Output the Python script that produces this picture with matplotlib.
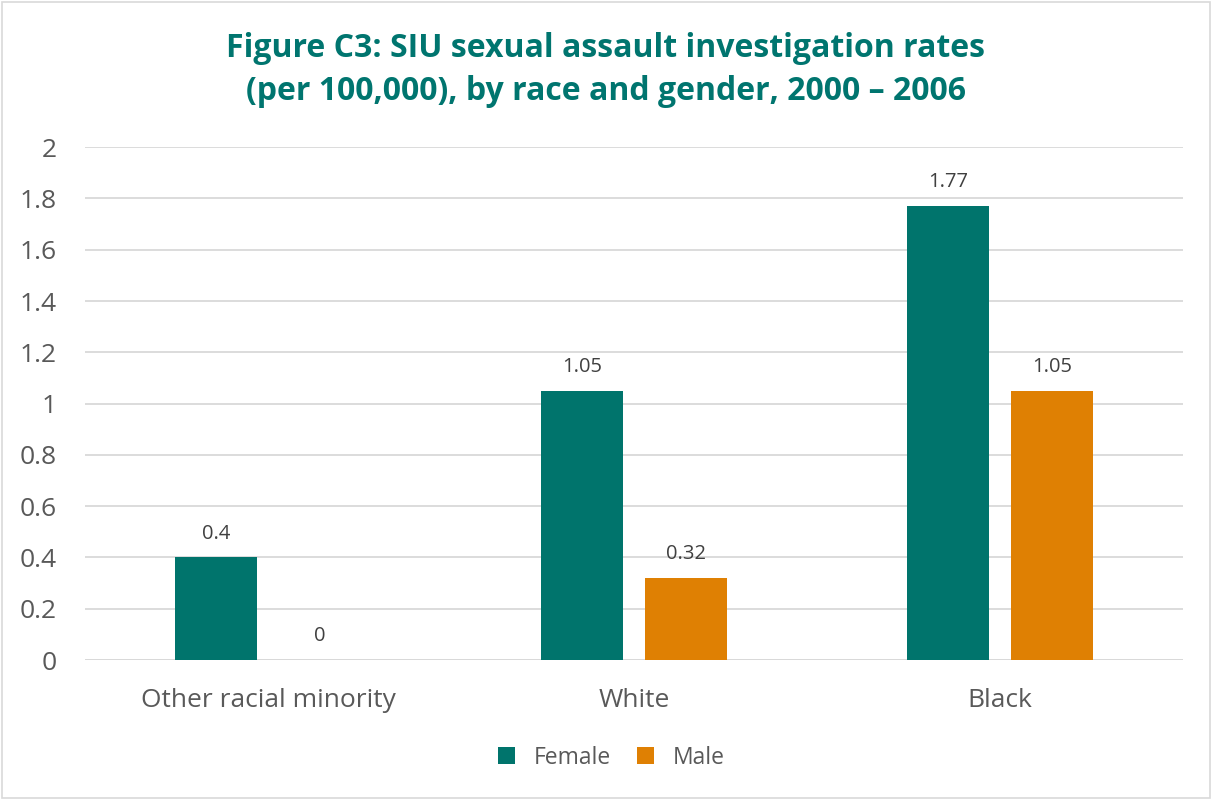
import matplotlib
matplotlib.use("Agg")
import matplotlib.pyplot as plt
from matplotlib.patches import Rectangle
import numpy as np

categories = ["Other racial minority", "White", "Black"]
female = [0.4, 1.05, 1.77]
male = [0, 0.32, 1.05]
female_labels = ["0.4", "1.05", "1.77"]
male_labels = ["0", "0.32", "1.05"]
yticks = [0, 0.2, 0.4, 0.6, 0.8, 1, 1.2, 1.4, 1.6, 1.8, 2]
ytick_labels = ["0", "0.2", "0.4", "0.6", "0.8", "1", "1.2", "1.4", "1.6", "1.8", "2"]

TEAL = "#00746C"
ORANGE = "#DF8003"
TITLE = "#00756F"
GRID = "#D9D9D9"
TEXT = "#595959"

plt.rcParams["font.family"] = ["Open Sans", "DejaVu Sans"]

fig = plt.figure(figsize=(12.12, 8), dpi=100)
fig.patches.append(Rectangle((0.002, 0.002), 0.996, 0.996, transform=fig.transFigure,
                             fill=False, edgecolor="#D9D9D9", linewidth=1.2))
ax = fig.add_axes([0.0701, 0.175, 0.906, 0.641])

x = np.arange(len(categories))
w = 0.224
off = 0.142
b1 = ax.bar(x - off, female, w, color=TEAL, label="Female", zorder=3)
b2 = ax.bar(x + off, male, w, color=ORANGE, label="Male", zorder=3)

for bars, labels in ((b1, female_labels), (b2, male_labels)):
    for rect, lab in zip(bars, labels):
        ax.annotate(lab, (rect.get_x() + rect.get_width() / 2, rect.get_height()),
                    xytext=(0, 10), textcoords="offset points", ha="center", va="bottom",
                    fontsize=14.5, color="#404040")

ax.set_xlim(-0.5, 2.5)
ax.set_ylim(0, 2)
ax.set_yticks(yticks)
ax.set_yticklabels(ytick_labels)
ax.set_xticks(x)
ax.set_xticklabels(categories)
ax.tick_params(axis="y", length=0, pad=20, labelsize=19, labelcolor=TEXT)
ax.tick_params(axis="x", length=0, pad=20, labelsize=19, labelcolor=TEXT)
ax.yaxis.grid(True, color=GRID, linewidth=1.3, zorder=0)
for s in ax.spines.values():
    s.set_visible(False)
ax.axhline(0, color=GRID, linewidth=1.3, zorder=2)

fig.text(0.5, 0.96, "Figure C3: SIU sexual assault investigation rates\n(per 100,000), by race and gender, 2000 \u2013 2006",
         ha="center", va="top", fontsize=23, fontweight="bold", color=TITLE, linespacing=1.4)

fig.legend(handles=[b1, b2], labels=["Female", "Male"], loc="center", bbox_to_anchor=(0.5045, 0.053),
           ncol=2, frameon=False, fontsize=16.5, labelcolor=TEXT, handlelength=0.74,
           handleheight=0.74, handletextpad=0.85, columnspacing=1.1)

fig.savefig("out.png", dpi=100)
